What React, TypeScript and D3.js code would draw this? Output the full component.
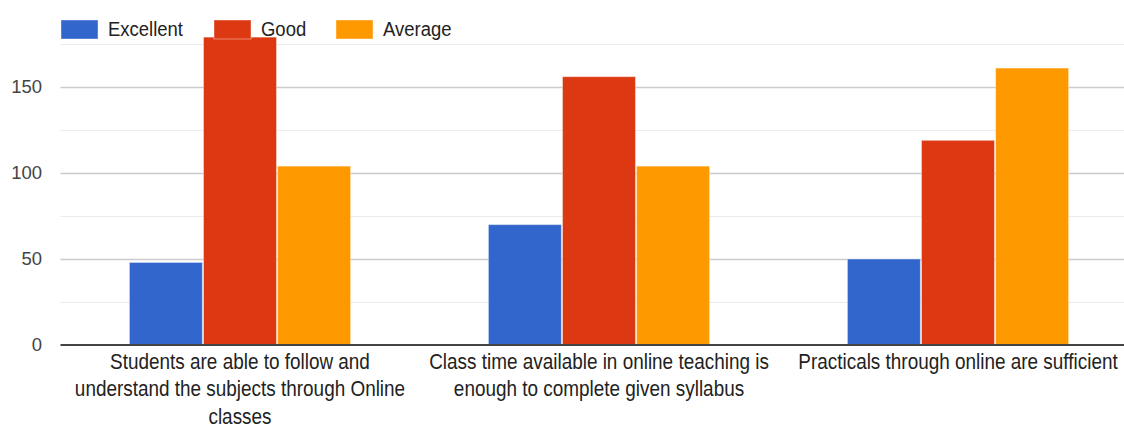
import React, { useEffect, useRef } from "react";
import * as d3 from "d3";

const categories = [
  ["Students are able to follow and", "understand the subjects through Online", "classes"],
  ["Class time available in online teaching is", "enough to complete given syllabus"],
  ["Practicals through online are sufficient"],
];
const seriesNames = ["Excellent", "Good", "Average"];
const excellent = [48, 70, 50];
const good = [179, 156, 119];
const average = [104, 104, 161];
const yTicks = [0, 50, 100, 150];
const colors = ["#3366cc", "#dc3912", "#ff9900"];

const App = () => {
  const ref = useRef<SVGSVGElement>(null);

  useEffect(() => {
    document.body.style.margin = "0";
    const width = 1124,
      height = 427;
    const left = 60.5,
      right = 1137.5,
      top = 44,
      bottom = 345;
    const squeeze = 0.88; // labels in the picture are narrow

    const svg = d3.select(ref.current).attr("width", width).attr("height", height);
    svg.selectAll("*").remove();

    const y = d3.scaleLinear().domain([0, 175]).range([bottom, top]);
    const x0 = d3
      .scaleBand()
      .domain(categories.map((d, i) => String(i)))
      .range([left, right]);
    const x1 = d3
      .scaleBand()
      .domain(seriesNames)
      .range([0, x0.bandwidth()])
      .paddingInner(0.015)
      .paddingOuter(0.93);

    const font = "Arial, 'Liberation Sans', sans-serif";

    // gridlines
    const minor = d3.range(25, 176, 50);
    svg
      .append("g")
      .selectAll("line")
      .data(minor)
      .join("line")
      .attr("x1", left)
      .attr("x2", width)
      .attr("y1", (d) => Math.round(y(d)) + 0.5)
      .attr("y2", (d) => Math.round(y(d)) + 0.5)
      .attr("stroke", "#ebebeb");
    svg
      .append("g")
      .selectAll("line")
      .data(yTicks.slice(1))
      .join("line")
      .attr("x1", left)
      .attr("x2", width)
      .attr("y1", (d) => Math.round(y(d)) + 0.5)
      .attr("y2", (d) => Math.round(y(d)) + 0.5)
      .attr("stroke", "#cccccc")
      .attr("stroke-width", 1.5);

    // y labels
    svg
      .append("g")
      .selectAll("text")
      .data(yTicks)
      .join("text")
      .attr("x", 42)
      .attr("y", (d) => y(d))
      .attr("dy", "0.35em")
      .attr("text-anchor", "end")
      .attr("font-family", font)
      .attr("font-size", 18.5)
      .attr("fill", "#444")
      .text((d) => d);

    // bars
    const data = categories.map((c, i) => [excellent[i], good[i], average[i]]);
    const groups = svg
      .append("g")
      .selectAll("g")
      .data(data)
      .join("g")
      .attr("transform", (d, i) => `translate(${x0(String(i))},0)`);
    groups
      .selectAll("rect")
      .data((d) => d.map((v, j) => ({ v, j })))
      .join("rect")
      .attr("x", (d) => x1(seriesNames[d.j])!)
      .attr("width", x1.bandwidth())
      .attr("y", (d) => y(d.v))
      .attr("height", (d) => bottom - y(d.v))
      .attr("fill", (d) => colors[d.j])
      .attr("stroke", "#ffffff")
      .attr("stroke-opacity", 0.4)
      .attr("stroke-width", 1);

    // baseline
    svg
      .append("line")
      .attr("x1", left)
      .attr("x2", width)
      .attr("y1", bottom)
      .attr("y2", bottom)
      .attr("stroke", "#444")
      .attr("stroke-width", 2);

    // category labels
    const labels = svg
      .append("g")
      .selectAll("text")
      .data(categories)
      .join("text")
      .attr(
        "transform",
        (d, i) => `translate(${x0(String(i))! + x0.bandwidth() / 2},369) scale(${squeeze},1)`
      )
      .attr("text-anchor", "middle")
      .attr("font-family", font)
      .attr("font-size", 21.5)
      .attr("fill", "#222");
    labels
      .selectAll("tspan")
      .data((d) => d)
      .join("tspan")
      .attr("x", 0)
      .attr("dy", (d, i) => (i === 0 ? 0 : 27.5))
      .text((d) => d);

    // legend
    const legendX = [61, 214, 336];
    const legend = svg
      .append("g")
      .selectAll("g")
      .data(seriesNames)
      .join("g")
      .attr("transform", (d, i) => `translate(${legendX[i]},20)`);
    legend
      .append("rect")
      .attr("width", 37)
      .attr("height", 19)
      .attr("fill", (d, i) => colors[i])
      .attr("stroke", "#ffffff")
      .attr("stroke-opacity", 0.4);
    legend
      .append("text")
      .attr("transform", `translate(47,16) scale(${squeeze},1)`)
      .attr("font-family", font)
      .attr("font-size", 21)
      .attr("fill", "#222")
      .text((d) => d);
  }, []);

  return <svg ref={ref} style={{ display: "block" }}></svg>;
};

export default App;
